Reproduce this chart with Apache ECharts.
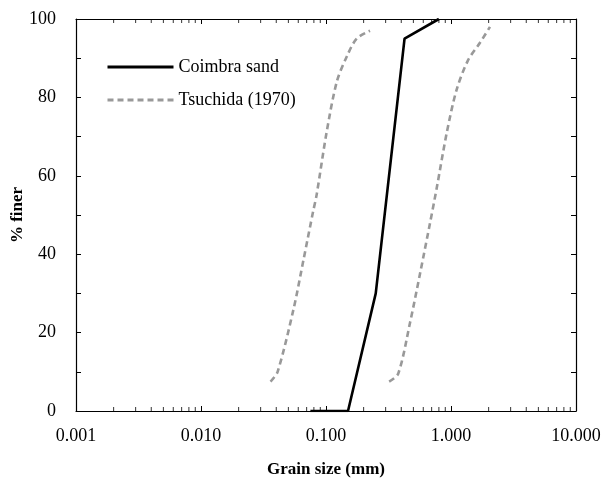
<!DOCTYPE html>
<html>
<head>
<meta charset="utf-8">
<script src="https://cdn.jsdelivr.net/npm/echarts@6/dist/echarts.min.js"></script>
<style>html,body{margin:0;padding:0;background:#fff}#c{width:605px;height:483px}</style>
</head>
<body>
<div id="c"></div>
<script>
// Coimbra sand: [grain size mm, % finer]
const coimbraSize = [0.075, 0.15, 0.25, 0.425, 0.8];
const coimbraFiner = [0, 0, 30, 95, 100];
// Tsuchida (1970) band, lower (fine) bound
const tsuFineSize = [0.036, 0.041, 0.055, 0.066, 0.079, 0.084, 0.101, 0.122, 0.147, 0.176, 0.225];
const tsuFineFiner = [7.5, 10, 26, 38.5, 51, 55, 71, 84, 90.5, 95, 97];
// Tsuchida (1970) band, upper (coarse) bound
const tsuCoarseSize = [0.32, 0.378, 0.47, 0.565, 0.68, 0.77, 0.925, 1.11, 1.37, 1.71, 2.05];
const tsuCoarseFiner = [7.5, 9.5, 22.5, 35, 48, 57, 71, 82, 89.5, 94, 98];
// minor tick multipliers per decade
const minorMult = [2, 3, 4, 5, 6, 7, 8, 9];
const decades = [0.001, 0.01, 0.1, 1];
const xMin = 0.001, xMax = 10, yMin = 0, yMax = 100;

const zip = (a, b) => a.map((v, i) => [v, b[i]]);
const minorVals = [];
decades.forEach(d => minorMult.forEach(m => minorVals.push(+(d * m).toPrecision(3))));

const font = 'Liberation Serif';
const chart = echarts.init(document.getElementById('c'));
const axLine = {show: true, onZero: false, lineStyle: {color: '#000', width: 1.2}};
const tick = {show: true, inside: true, length: 5, lineStyle: {color: '#000', width: 1}};

chart.setOption({
  animation: false,
  backgroundColor: '#fff',
  grid: {left: 76, right: 29, top: 19, bottom: 72, containLabel: false, outerBoundsMode: 'none'},
  legend: {
    show: true,
    data: ['Coimbra sand', 'Tsuchida (1970)'],
    orient: 'vertical', left: 101, top: 53,
    itemWidth: 66, itemHeight: 14, itemGap: 15,
    itemStyle: {opacity: 0},
    lineStyle: {width: 3},
    textStyle: {fontFamily: font, fontSize: 18, color: '#000'}
  },
  xAxis: [{
    type: 'log', logBase: 10, min: xMin, max: xMax,
    name: 'Grain size (mm)', nameLocation: 'middle', nameGap: 50, nameMoveOverlap: false,
    nameTextStyle: {fontFamily: font, fontSize: 17, fontWeight: 'bold', color: '#000'},
    axisLine: axLine, axisTick: tick, splitLine: {show: false},
    axisLabel: {fontFamily: font, fontSize: 18, color: '#000', margin: 16,
      formatter: v => Number(v).toFixed(3)}
  }, {
    type: 'log', logBase: 10, min: xMin, max: xMax, position: 'top',
    axisLine: axLine, axisTick: tick, splitLine: {show: false}, axisLabel: {show: false}
  }],
  yAxis: [{
    type: 'value', min: yMin, max: yMax, interval: 10,
    name: '% finer', nameLocation: 'middle', nameGap: 50, nameMoveOverlap: false,
    nameTextStyle: {fontFamily: font, fontSize: 17, fontWeight: 'bold', color: '#000'},
    axisLine: axLine, axisTick: tick, splitLine: {show: false},
    axisLabel: {fontFamily: font, fontSize: 18, color: '#000', margin: 20,
      formatter: v => (v % 20 === 0 ? String(v) : '')}
  }, {
    type: 'value', min: yMin, max: yMax, interval: 10, position: 'right',
    axisLine: axLine, axisTick: tick, splitLine: {show: false}, axisLabel: {show: false}
  }],
  series: [
    {name: 'Coimbra sand', type: 'line', data: zip(coimbraSize, coimbraFiner),
     symbol: 'none', lineStyle: {color: '#000', width: 2.6}, itemStyle: {color: '#000'}, z: 5},
    {name: 'Tsuchida (1970)', type: 'line', data: zip(tsuFineSize, tsuFineFiner), smooth: 0.3,
     symbol: 'none', lineStyle: {color: '#999', width: 2.6, type: [6, 4]}, itemStyle: {color: '#999'}},
    {name: 'Tsuchida (1970)', type: 'line', data: zip(tsuCoarseSize, tsuCoarseFiner), smooth: 0.3,
     symbol: 'none', lineStyle: {color: '#999', width: 2.6, type: [6, 4]}, itemStyle: {color: '#999'}},
    {name: 'minorBottom', type: 'scatter', silent: true, data: minorVals.map(v => [v, yMin]),
     symbol: 'rect', symbolSize: [1, 4], symbolOffset: [0, -2], itemStyle: {color: '#000'}, z: 6},
    {name: 'minorTop', type: 'scatter', silent: true, data: minorVals.map(v => [v, yMax]),
     symbol: 'rect', symbolSize: [1, 4], symbolOffset: [0, 2], itemStyle: {color: '#000'}, z: 6}
  ]
});
</script>
</body>
</html>
